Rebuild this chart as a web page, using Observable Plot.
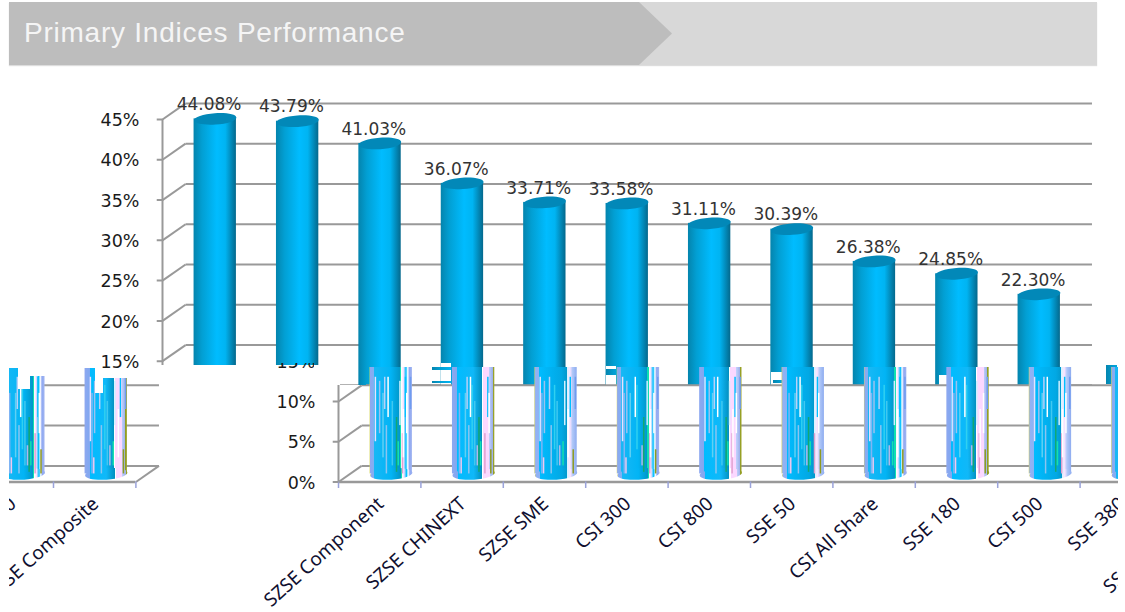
<!DOCTYPE html>
<html><head><meta charset="utf-8">
<script src="https://cdn.jsdelivr.net/npm/d3@7"></script>
<script src="https://cdn.jsdelivr.net/npm/@observablehq/plot@0.6"></script>
<style>
html,body{margin:0;padding:0;background:#fff}
#stage{position:relative;width:1125px;height:612px;overflow:hidden}
.band{position:absolute;left:9px;top:2px;height:63px;box-shadow:0 1px 1px #ddd}
#light{width:1088px;background:#d8d8d8}
#dark{width:663px;background:#bdbdbd;clip-path:polygon(0 0,630px 0,663px 50%,630px 100%,0 100%)}
#title{position:absolute;left:24px;top:17px;font:28px "Liberation Sans",Arial,sans-serif;letter-spacing:.76px;color:#f5f5f5;white-space:nowrap}
.layer{position:absolute;left:0;top:0;width:1125px;height:612px}
.layer svg{position:absolute;left:0;top:0;max-width:none;background:transparent}
</style></head>
<body>
<svg width="0" height="0" style="position:absolute"><defs>
<linearGradient id="cyl"><stop offset="0" stop-color="#0484ad"/><stop offset=".2" stop-color="#029fd3"/><stop offset=".55" stop-color="#00bcff"/><stop offset=".75" stop-color="#00b4f2"/><stop offset="1" stop-color="#04688c"/></linearGradient>
<linearGradient id="low0"><stop offset="0" stop-color="#d8d860"/><stop offset=".02" stop-color="#8ea8f0"/><stop offset=".1" stop-color="#7fb0f2"/><stop offset=".1" stop-color="#18b8f5"/><stop offset=".5" stop-color="#02b4f5"/><stop offset=".72" stop-color="#0296c8"/><stop offset=".72" stop-color="#10e0b0"/><stop offset=".75" stop-color="#10e0b0"/><stop offset=".75" stop-color="#fff"/><stop offset=".8" stop-color="#f8e0ff"/><stop offset=".86" stop-color="#00c0ff"/><stop offset=".9" stop-color="#fff"/><stop offset=".94" stop-color="#8fa8f2"/><stop offset="1" stop-color="#a0b4f0"/></linearGradient>
<linearGradient id="low1"><stop offset="0" stop-color="#8ea8f0"/><stop offset=".12" stop-color="#80a8f0"/><stop offset=".12" stop-color="#00bcff"/><stop offset=".5" stop-color="#10b8f8"/><stop offset=".7" stop-color="#0390c0"/><stop offset=".7" stop-color="#fff"/><stop offset=".73" stop-color="#fff"/><stop offset=".73" stop-color="#fbd8ff"/><stop offset=".88" stop-color="#fbd8ff"/><stop offset=".88" stop-color="#c0d0fa"/><stop offset=".96" stop-color="#9db0ea"/><stop offset=".96" stop-color="#909a20"/><stop offset="1" stop-color="#a0a830"/></linearGradient>
<linearGradient id="low2"><stop offset="0" stop-color="#c8cc70"/><stop offset=".03" stop-color="#94b0f4"/><stop offset=".12" stop-color="#8ab4f4"/><stop offset=".12" stop-color="#00bcff"/><stop offset=".64" stop-color="#02a8e4"/><stop offset=".77" stop-color="#0398cc"/><stop offset=".77" stop-color="#d8f4ff"/><stop offset=".84" stop-color="#fbe4ff"/><stop offset=".9" stop-color="#b0c8f8"/><stop offset="1" stop-color="#8eacf0"/></linearGradient>
</defs></svg>
<div id="stage">
  <div class="band" id="light"></div>
  <div class="band" id="dark"></div>
  <div id="title">Primary Indices Performance</div>
</div>
<script>
const categories = ["SZSE Component","SZSE CHINEXT","SZSE SME","CSI 300","CSI 800","SSE 50","CSI All Share","SSE 180","CSI 500","SSE 380","SSE Composite"];
const returns = [44.08,43.79,41.03,36.07,33.71,33.58,31.11,30.39,26.38,24.85,22.30];
const yTicks = [0,5,10,15,20,25,30,35,40,45];
const bandEdges = [0,1,2,3,4,5,6,7,8,9,10,11];
// render-artifact streaks on the lower bars: position across bar (0-1), low, high, colour
const streaks = [
 [.16,1,11,"#7fb4f4"],[.22,6,12.5,"#9cc0f0"],[.3,3,11,"#60d0f4"],[.38,1,7,"#8cc4f0"],[.46,4,12,"#30d0f0"],[.12,5,13,"#e8e0ff"],
 [.62,1.2,8,"#12a870"],[.66,2,5,"#14e0b0"],[.58,2,4.5,"#b0b8e8"],[.7,7,12.5,"#d0f0ff"],[.76,1,6,"#e0a0d0"],[.83,8,13,"#00c0ff"],
 [.9,1,4,"#8f9a20"],[.95,9,13,"#6f9cf0"],[.42,8,13,"#ffffff"],[.52,2,10,"#40c8f0"],[.2,1,3,"#f0c8f0"],[.78,3,9,"#ffffff"],[.86,6,11,"#fff"],[.34,9,13,"#b8d0f8"]
];

const depthX = 0.28, depthY = 2;      // 3D wall offset, in scale units
const halfBar = 0.257, midX = 0.14, midY = 1;
const rows = categories.map((name,i)=>({name,i,v:returns[i]}));
const streakRows = rows.flatMap(d=>streaks.filter((s,j)=>(j+d.i*3)%4!==0).map(([p,lo,hi,c])=>({i:d.i,p,lo,hi,c})));

const ellipse = {draw(c,size){
  const r=Math.sqrt(size/Math.PI), a=-0.07, ry=r*0.27, k=0.5523;
  const p=(x,y)=>[x*Math.cos(a)-y*Math.sin(a), x*Math.sin(a)+y*Math.cos(a)];
  const L=(...q)=>q.map(([x,y])=>p(x,y)).flat();
  c.moveTo(...p(r,0));
  c.bezierCurveTo(...L([r,k*ry],[k*r,ry],[0,ry]));
  c.bezierCurveTo(...L([-k*r,ry],[-r,k*ry],[-r,0]));
  c.bezierCurveTo(...L([-r,-k*ry],[-k*r,-ry],[0,-ry]));
  c.bezierCurveTo(...L([k*r,-ry],[r,-k*ry],[r,0]));
  c.closePath();
}};

function chart({low=false,yLabels=[],xLabels=[],dataLabels=false}){
  const barCx = d=>d.i+.5+midX;
  const bodies = low
    ? [...[0,1,2].flatMap(k=>{
        const sub = rows.filter(d=>d.i%3===k), fill=`url(#low${k})`;
        return [
          Plot.rect(sub,{x1:d=>barCx(d)-halfBar,x2:d=>barCx(d)+halfBar,y1:midY,y2:d=>d.v+midY,fill}),
          Plot.dot(sub,{x:barCx,y:midY,r:21.2,symbol:ellipse,fill})
        ];
      }),
      Plot.rect(streakRows,{x1:d=>barCx(d)-halfBar+d.p*2*halfBar,x2:d=>barCx(d)-halfBar+d.p*2*halfBar+.018,y1:"lo",y2:"hi",fill:"c"})]
    : [
        Plot.rect(rows,{x1:d=>barCx(d)-halfBar,x2:d=>barCx(d)+halfBar,y1:midY,y2:d=>d.v+midY,fill:"url(#cyl)"}),
        Plot.dot(rows,{x:barCx,y:d=>d.v+midY,r:21.2,symbol:ellipse,fill:"#0288b8"})
      ];
  return Plot.plot({
    width:1125,height:612,marginLeft:162,marginRight:56.6,marginTop:102.9,marginBottom:130.5,
    x:{domain:[0,11],axis:null},
    y:{domain:[0,47],axis:null},
    color:{type:"identity"},
    style:{background:"transparent",overflow:"visible"},
    marks:[
      Plot.link(yTicks,{x1:0,x2:depthX,y1:d=>d,y2:d=>d+depthY,stroke:"#999",strokeWidth:2}),
      Plot.link(yTicks,{x1:depthX,x2:11+depthX,y1:d=>d+depthY,y2:d=>d+depthY,stroke:"#999",strokeWidth:2}),
      Plot.link([0],{x1:11,x2:11+depthX,y1:0,y2:depthY,stroke:"#999",strokeWidth:2}),
      Plot.ruleX([0],{y1:0,y2:45,stroke:"#999",strokeWidth:2}),
      Plot.ruleY([0],{x1:0,x2:11,stroke:"#999",strokeWidth:2.5}),
      Plot.ruleX(bandEdges,{y1:0,y2:-0.8,stroke:"#9aa3da",strokeWidth:1.5}),
      Plot.link(yTicks,{x1:-0.07,x2:0,y1:d=>d,y2:d=>d,stroke:"#999",strokeWidth:2}),
      Plot.text(yLabels,{x:0,y:d=>d,text:d=>d+"%",textAnchor:"end",dx:-23,dy:1,fontSize:17.5,fill:"#1a1a1a",fontFamily:"DejaVu Sans"}),
      ...bodies,
      ...(dataLabels?[Plot.text(rows,{x:d=>d.i+.565,y:d=>d.v+2.77,text:d=>d.v.toFixed(2)+"%",fontSize:17,fill:"#333",fontFamily:"DejaVu Sans"})]:[]),
      Plot.text(rows.filter(d=>xLabels.includes(d.i)),{x:d=>d.i+.5,y:0,text:"name",rotate:-42,textAnchor:"end",dx:1,dy:19,fontSize:19,fill:"#101030",fontFamily:"Noto Sans"})
    ]
  });
}

const stage = document.getElementById("stage");
function layer(shift,opts,poly){
  const div=document.createElement("div");
  div.className="layer";
  div.style.clipPath=`polygon(${poly.map(([x,y])=>x+"px "+y+"px").join(",")})`;
  const svg=chart(opts);
  svg.style.transform=`translateX(${shift}px)`;
  div.appendChild(svg);
  stage.appendChild(div);
}
const rect=(x0,y0,x1,y1)=>[[x0,y0],[x1,y0],[x1,y1],[x0,y1]];

// wrapped fragment on the far left (under the upper strip)
layer(-933,{low:true,xLabels:[9,10]},[[9,368],[18,368],[18,389],[30,389],[30,376],[84,376],[84,368],[95,368],[95,393],[103,393],[103,378],[160,378],[160,612],[9,612]]);
// upper strip
layer(0,{yLabels:yTicks.filter(d=>d>=15),dataLabels:true},[[0,66],[1097,66],[1097,385],[951,385],[951,375],[939,375],[939,385],[783,385],[783,372],[771,372],[771,385],[616,385],[616,366],[606,366],[606,385],[451,385],[451,363],[441,363],[441,385],[340,385],[340,365],[160,365],[160,373],[0,373]]);
// small displaced shards
layer(-9,{},rect(432,367,451,370));
layer(-9,{},rect(432,381,451,383));
layer(0,{},rect(606,369,616,375));
layer(2,{},rect(773,380,783,383));
layer(88,{},rect(1106,365,1117,384));
// lower strip, displaced to the right
layer(176,{low:true,yLabels:[0,5,10,15],xLabels:[0,1,2,3,4,5,6,7,8,9,10]},[[250,385],[277,385],[277,363],[314,363],[314,385],[366,385],[366,367],[1118,367],[1118,612],[250,612]]);
</script>
</body></html>
